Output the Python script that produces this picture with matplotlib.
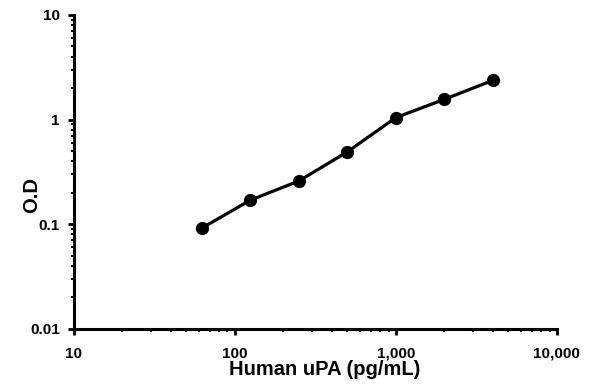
import matplotlib.pyplot as plt
from matplotlib.ticker import FuncFormatter, LogLocator, NullFormatter

# Standard curve data
conc = [62.5, 125, 250, 500, 1000, 2000, 4000]
od = [0.092, 0.170, 0.259, 0.492, 1.045, 1.56, 2.37]

x_label = 'Human uPA (pg/mL)'
y_label = 'O.D'

plt.rcParams['font.family'] = ['Liberation Sans', 'DejaVu Sans']
plt.rcParams['font.weight'] = 'bold'

fig = plt.figure(figsize=(5.95, 3.92), dpi=100)
ax = fig.add_axes([0.124, 0.161, 0.812, 0.801])

ax.plot(conc, od, color='black', lw=2.3, marker='o', markersize=8.5)

ax.set_xscale('log')
ax.set_yscale('log')
ax.set_xlim(10, 10000)
ax.set_ylim(0.01, 10)

ax.xaxis.set_major_formatter(FuncFormatter(lambda v, p: f'{v:,.0f}'))
ax.yaxis.set_major_formatter(FuncFormatter(lambda v, p: f'{v:g}'))
ax.xaxis.set_minor_locator(LogLocator(base=10, subs=range(2, 10)))
ax.yaxis.set_minor_locator(LogLocator(base=10, subs=range(2, 10)))
ax.xaxis.set_minor_formatter(NullFormatter())
ax.yaxis.set_minor_formatter(NullFormatter())

for s in ['top', 'right']:
    ax.spines[s].set_visible(False)
for s in ['left', 'bottom']:
    ax.spines[s].set_linewidth(2.2)

ax.tick_params(which='major', direction='out', length=4, width=2, labelsize=11)
ax.tick_params(axis='x', which='major', pad=9)
ax.tick_params(axis='y', which='major', pad=6)
ax.tick_params(which='minor', direction='out', length=2, width=1.5)

ax.set_xlabel(x_label, fontsize=14.5, fontweight='bold')
ax.set_ylabel(y_label, fontsize=14.5, fontweight='bold')
ax.xaxis.set_label_coords(0.52, -0.098)
ax.yaxis.set_label_coords(-0.068, 0.427)

fig.savefig('out.png', dpi=100)
